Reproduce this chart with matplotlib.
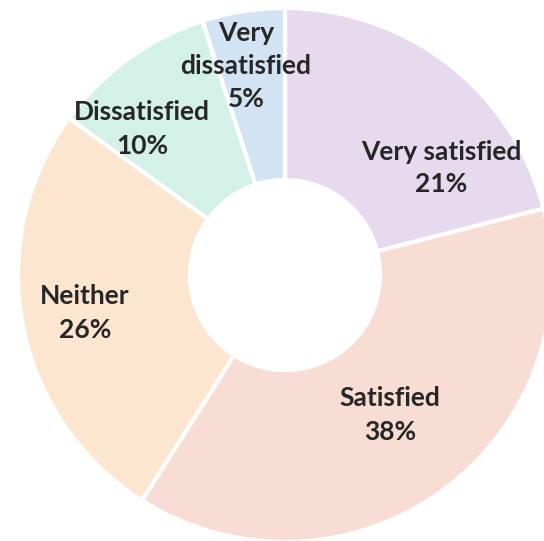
import matplotlib.pyplot as plt

# satisfaction survey, clockwise from 12 o'clock
categories = ['Very satisfied', 'Satisfied', 'Neither', 'Dissatisfied', 'Very\ndissatisfied']
shares = [21, 38, 26, 10, 5]
colors = ['#E7DAEE', '#F7DDD3', '#FDE6CF', '#D3F1E6', '#D2E4F4']

# label centres in pixel coords (from top-left of the image)
label_pos = [(441, 168), (390, 415), (85, 313), (142, 129), (246, 66)]

W, H = 544, 541
fig = plt.figure(figsize=(W / 100, H / 100), dpi=100)
ax = fig.add_axes([0, 0, 1, 1])

ax.pie(shares, colors=colors, startangle=90, counterclock=False,
       radius=267, center=(285, H - 275),
       wedgeprops=dict(width=172, edgecolor='white', linewidth=3))

for cat, val, (px, py) in zip(categories, shares, label_pos):
    ax.text(px, H - py, f'{cat}\n{val}%', ha='center', va='center',
            fontsize=19, fontweight='bold', family='Lato', color='#262626',
            linespacing=1.45)

ax.set_xlim(0, W)
ax.set_ylim(0, H)
ax.set_aspect('equal')
ax.axis('off')

fig.savefig('out.png', dpi=100)
